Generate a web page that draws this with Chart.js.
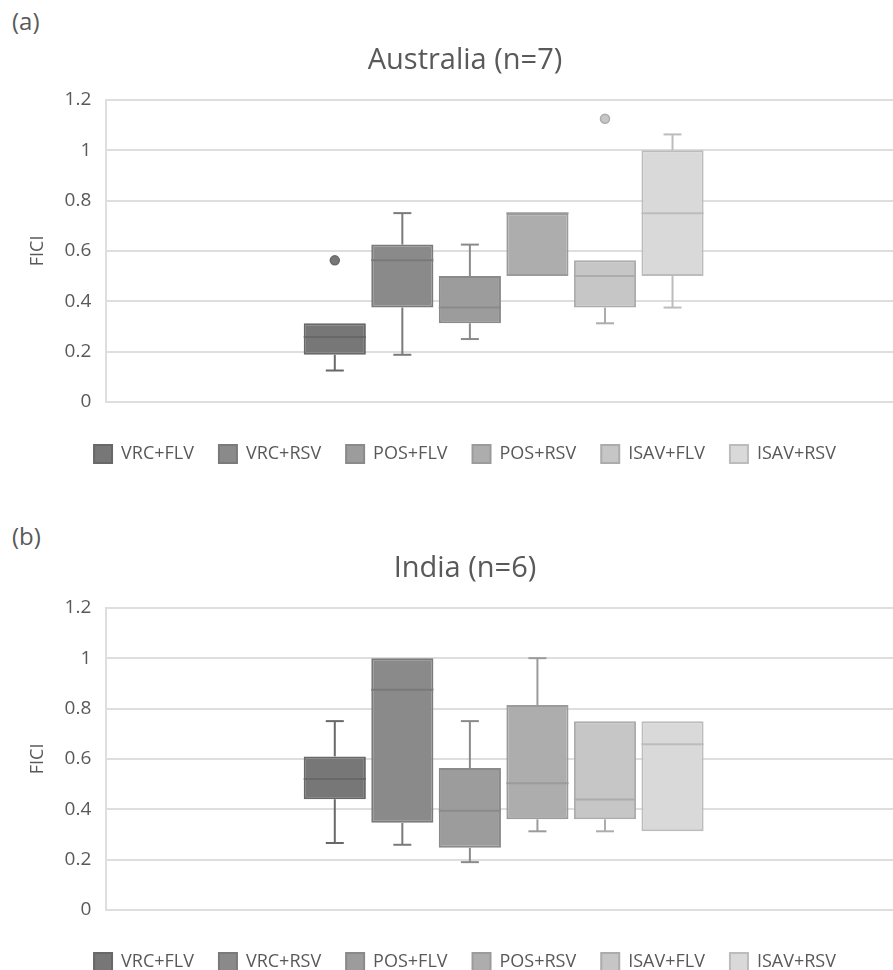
<!DOCTYPE html>
<html>
<head>
<meta charset="utf-8">
<script src="https://cdn.jsdelivr.net/npm/chart.js@4.4.1/dist/chart.umd.min.js"></script>
<style>
  html, body { margin: 0; padding: 0; background: #fff; overflow: hidden; }
  body { width: 893px; height: 970px; position: relative; font-family: "Open Sans", sans-serif; }
  .panel { position: absolute; left: 0; width: 930px; height: 508px; }
  .tag { position: absolute; left: 12px; font-size: 24px; color: #595959; font-family: "Open Sans", sans-serif; }
</style>
</head>
<body>
<div class="tag" style="top:4px">(a)</div>
<div class="panel" style="top:0"><canvas id="ausChart" width="930" height="508"></canvas></div>
<div class="tag" style="top:519px">(b)</div>
<div class="panel" style="top:508px"><canvas id="indChart" width="930" height="508"></canvas></div>
<script>
// Комбінації препаратів
const seriesNames = ['VRC+FLV', 'VRC+RSV', 'POS+FLV', 'POS+RSV', 'ISAV+FLV', 'ISAV+RSV'];
const fillColors = ['#777777', '#8a8a8a', '#9c9c9c', '#adadad', '#c6c6c6', '#d9d9d9'];
const lineColors = ['#686868', '#7a7a7a', '#8a8a8a', '#9b9b9b', '#acacac', '#bcbcbc'];
const yTicks = [0, 0.2, 0.4, 0.6, 0.8, 1, 1.2];

// Australia (n=7)
const ausMin = [0.125, 0.1875, 0.25, 0.5, 0.3125, 0.375];
const ausQ1 = [0.1875, 0.375, 0.3125, 0.5, 0.375, 0.5];
const ausMedian = [0.258, 0.5625, 0.375, 0.75, 0.5, 0.75];
const ausQ3 = [0.3125, 0.625, 0.5, 0.75, 0.5625, 1.0];
const ausMax = [0.3125, 0.75, 0.625, 0.75, 0.5625, 1.0625];
const ausOutliers = [[0.5625], [], [], [], [1.125], []];

// India (n=6)
const indMin = [0.266, 0.259, 0.19, 0.3125, 0.3125, 0.3125];
const indQ1 = [0.44, 0.346, 0.247, 0.36, 0.36, 0.3125];
const indMedian = [0.52, 0.875, 0.394, 0.503, 0.439, 0.658];
const indQ3 = [0.61, 1.0, 0.564, 0.814, 0.75, 0.75];
const indMax = [0.75, 1.0, 0.75, 1.0, 0.75, 0.75];
const indOutliers = [[], [], [], [], [], []];

const textColor = '#595959';
const gridColor = '#dedede';

// Вуса, медіана та викиди поверх плаваючих стовпців
const boxWhiskers = {
    id: 'boxWhiskers',
    afterDatasetsDraw(chart) {
        const { ctx } = chart;
        const y = chart.scales.y;
        chart.data.datasets.forEach((ds, i) => {
            const bar = chart.getDatasetMeta(i).data[0];
            if (!bar) return;
            const st = ds.stats;
            const x = bar.x;
            const half = bar.width / 2;
            const cap = 9;
            const line = (x1, y1, x2, y2) => {
                ctx.beginPath();
                ctx.moveTo(x1, y1);
                ctx.lineTo(x2, y2);
                ctx.stroke();
            };
            ctx.save();
            ctx.strokeStyle = ds.borderColor;
            ctx.lineWidth = 2;
            const pMed = y.getPixelForValue(st.median);
            line(x - half, pMed, x + half, pMed);
            if (st.max > st.q3) {
                const pTop = y.getPixelForValue(st.max);
                line(x, y.getPixelForValue(st.q3), x, pTop);
                line(x - cap, pTop, x + cap, pTop);
            }
            if (st.min < st.q1) {
                const pBot = y.getPixelForValue(st.min);
                line(x, y.getPixelForValue(st.q1), x, pBot);
                line(x - cap, pBot, x + cap, pBot);
            }
            st.outliers.forEach(v => {
                ctx.beginPath();
                ctx.arc(x, y.getPixelForValue(v), 4.5, 0, Math.PI * 2);
                ctx.fillStyle = ds.backgroundColor;
                ctx.fill();
                ctx.lineWidth = 1.5;
                ctx.stroke();
            });
            ctx.restore();
        });
    }
};

function buildDatasets(mins, q1s, medians, q3s, maxs, outliers) {
    return seriesNames.map((name, i) => ({
        label: name,
        data: [[q1s[i], q3s[i]]],
        backgroundColor: fillColors[i],
        borderColor: lineColors[i],
        borderWidth: 2,
        borderSkipped: false,
        barPercentage: 0.92,
        categoryPercentage: 0.51,
        stats: { min: mins[i], q1: q1s[i], median: medians[i], q3: q3s[i], max: maxs[i], outliers: outliers[i] }
    }));
}

function makeChart(id, title, datasets) {
    new Chart(document.getElementById(id), {
        type: 'bar',
        data: { labels: [''], datasets: datasets },
        options: {
            responsive: false,
            animation: false,
            layout: { padding: { left: 29, right: 29, top: 0, bottom: 35 } },
            plugins: {
                title: {
                    display: true,
                    text: title,
                    color: textColor,
                    font: { family: 'Open Sans', size: 29, weight: 'normal' },
                    padding: { top: 43, bottom: 22 }
                },
                legend: {
                    position: 'bottom',
                    labels: {
                        color: textColor,
                        font: { family: 'Open Sans', size: 18 },
                        boxWidth: 18,
                        boxHeight: 18,
                        padding: 25
                    }
                },
                tooltip: { enabled: false }
            },
            scales: {
                x: {
                    grid: { display: false },
                    border: { display: false },
                    ticks: { display: false },
                    afterFit: axis => { axis.height = 18; }
                },
                y: {
                    min: 0,
                    max: 1.2,
                    afterBuildTicks: axis => { axis.ticks = yTicks.map(v => ({ value: v })); },
                    grid: { color: gridColor, lineWidth: 2, drawTicks: false },
                    border: { display: true, color: gridColor, width: 2 },
                    ticks: {
                        color: textColor,
                        font: { family: 'Open Sans', size: 19 },
                        padding: 15,
                        callback: v => String(v)
                    },
                    title: {
                        display: true,
                        text: 'FICI',
                        color: textColor,
                        font: { family: 'Open Sans', size: 18 },
                        padding: { top: -2, bottom: 1 }
                    }
                }
            }
        },
        plugins: [boxWhiskers]
    });
}

makeChart('ausChart', 'Australia (n=7)', buildDatasets(ausMin, ausQ1, ausMedian, ausQ3, ausMax, ausOutliers));
makeChart('indChart', 'India (n=6)', buildDatasets(indMin, indQ1, indMedian, indQ3, indMax, indOutliers));
</script>
</body>
</html>
